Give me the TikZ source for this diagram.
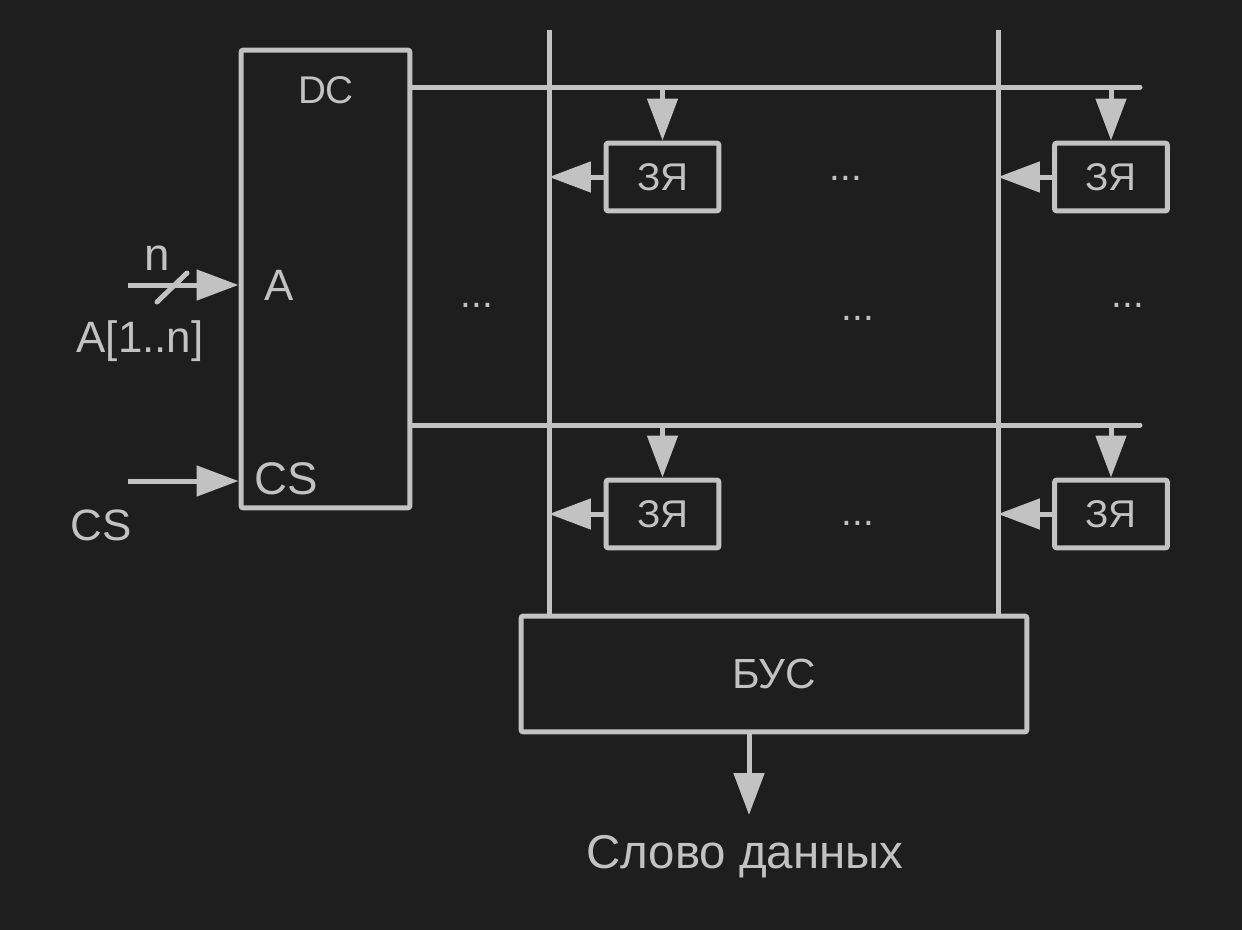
\documentclass[tikz,border=0pt]{standalone}
\usepackage{fontspec}
\setmainfont{Liberation Sans}
\usetikzlibrary{arrows.meta}
\definecolor{bg}{HTML}{1E1E1E}
\definecolor{fg}{HTML}{C2C2C2}
\tikzset{
  wire/.style={draw=fg, line width=0.1cm},
  link/.style={wire, -{Triangle[length=0.84cm,width=0.6cm]}},
  block/.style={draw=fg, line width=0.1cm, rounded corners=0.05cm, text=fg, inner sep=0pt},
  cell/.style={block, minimum width=2.26cm, minimum height=1.36cm, font=\fontsize{22}{24}\selectfont},
  label/.style={text=fg, inner sep=0pt},
}
\begin{document}
\begin{tikzpicture}[x=0.02cm, y=-0.02cm]
\fill[bg] (0,0) rectangle (1242,930);

% decoder
\node[block, minimum width=3.38cm, minimum height=9.16cm] (dc) at (325.5,279) {};
\node[label, font=\fontsize{22}{24}\selectfont] (dcname) at (326,90) {DC};
\node[label, font=\fontsize{25}{28}\selectfont] (ain) at (279,285) {A};
\node[label, font=\fontsize{26}{28}\selectfont] (csin) at (286,479) {CS};

% inputs
\coordinate (astart) at (128,285);
\coordinate (csstart) at (128,481);
\draw[link] (astart) -- (astart -| dc.west);
\draw[wire, line cap=round] (157,302) -- (187,273);
\node[label, font=\fontsize{26}{28}\selectfont, anchor=base] (nwidth) at (157,270) {n};
\node[label, font=\fontsize{25}{28}\selectfont, anchor=base] (aname) at (140,352) {A[1..n]};
\draw[link] (csstart) -- (csstart -| dc.west);
\node[label, font=\fontsize{25}{28}\selectfont] (csname) at (101,525) {CS};

% memory cells
\node[cell] (c11) at (662.5,177) {\raisebox{-0.1cm}{ЗЯ}};
\node[cell] (c12) at (1111,177) {\raisebox{-0.1cm}{ЗЯ}};
\node[cell] (c21) at (662.5,514) {\raisebox{-0.1cm}{ЗЯ}};
\node[cell] (c22) at (1111,514) {\raisebox{-0.1cm}{ЗЯ}};

% word bus block
\node[block, minimum width=10.12cm, minimum height=2.32cm, font=\fontsize{24}{26}\selectfont] (bus) at (774,674) {БУС};

% row lines
\coordinate (row1) at (1140,87);
\coordinate (row2) at (1140,425);
\draw[wire, line cap=round] (row1 -| dc.east) -- (row1);
\draw[wire, line cap=round] (row2 -| dc.east) -- (row2);

% bit lines
\coordinate (bit1) at (549,30);
\coordinate (bit2) at (998,30);
\draw[wire] (bit1) -- (bit1 |- bus.north);
\draw[wire] (bit2) -- (bit2 |- bus.north);

% cell connections
\draw[link] (c11.north |- row1) -- (c11.north);
\draw[link] (c12.north |- row1) -- (c12.north);
\draw[link] (c21.north |- row2) -- (c21.north);
\draw[link] (c22.north |- row2) -- (c22.north);
\draw[link] (c11.west) -- (bit1 |- c11.west);
\draw[link] (c12.west) -- (bit2 |- c12.west);
\draw[link] (c21.west) -- (bit1 |- c21.west);
\draw[link] (c22.west) -- (bit2 |- c22.west);

% output
\coordinate (out) at (749,815);
\draw[link] (out |- bus.south) -- (out);
\node[label, font=\fontsize{27}{30}\selectfont, anchor=base] (word) at (745,868) {Слово данных};

% ellipses
\foreach \px/\py [count=\i] in {846/180, 477/307, 858/320, 1128/307, 858/525}
  \node[label, font=\fontsize{22}{24}\selectfont, anchor=base] (dots\i) at (\px,\py) {...};
\end{tikzpicture}
\end{document}
